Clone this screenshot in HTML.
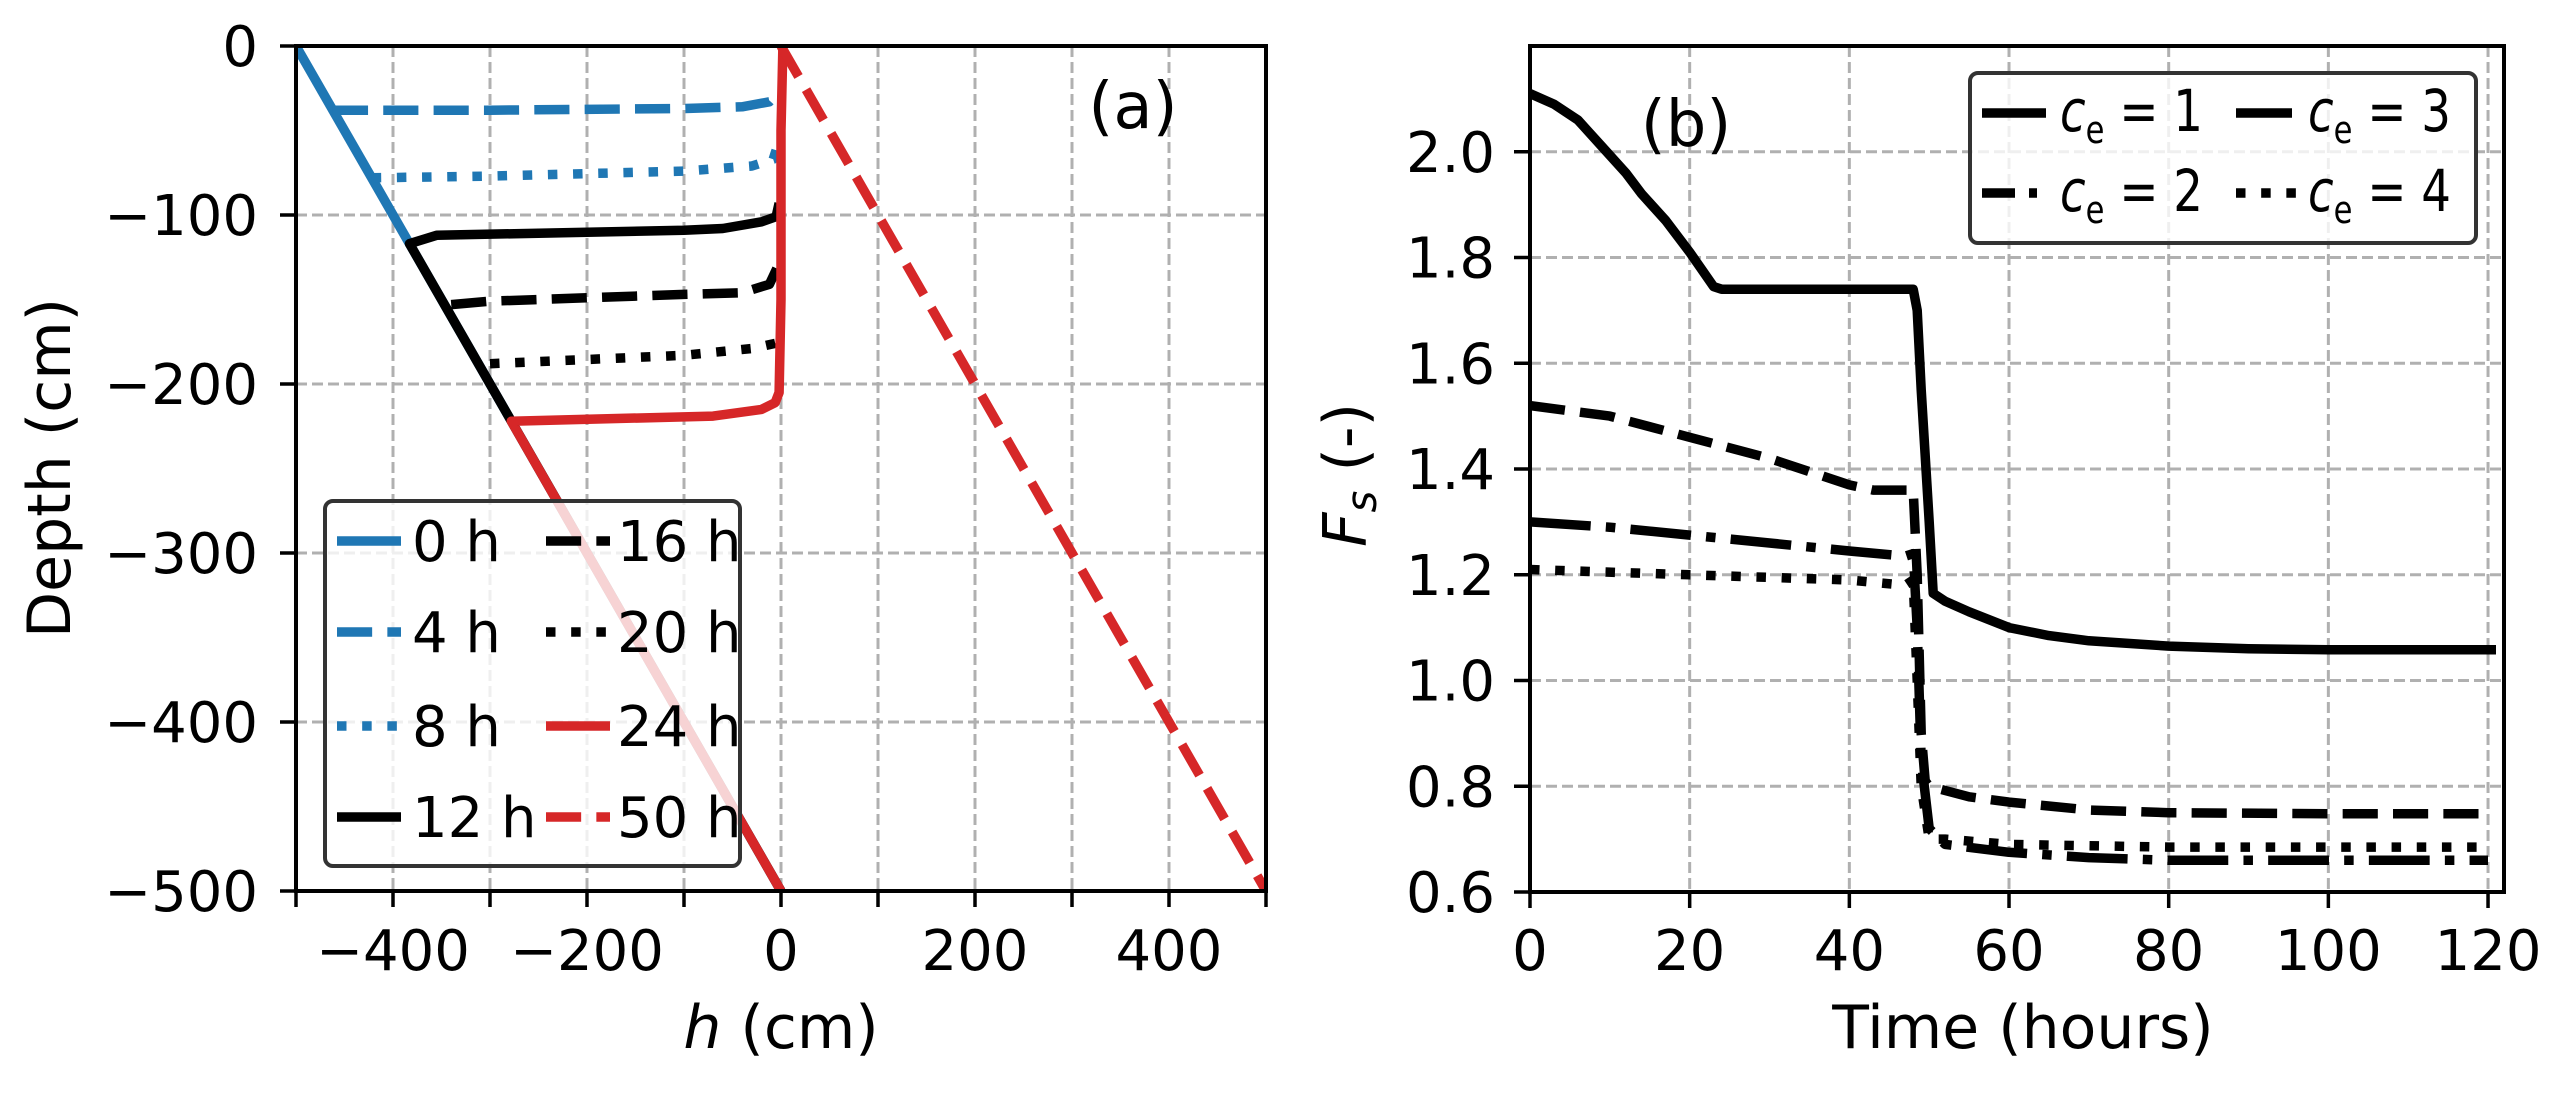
<!DOCTYPE html>
<html><head><meta charset="utf-8"><style>
html,body{margin:0;padding:0;background:#fff;}
svg{display:block;font-family:"DejaVu Sans","Liberation Sans",sans-serif;}
</style></head><body>
<svg id="fig" width="2561" height="1094" viewBox="0 0 2561 1094" xmlns="http://www.w3.org/2000/svg">
<rect width="2561" height="1094" fill="#fff"/>
<g id="panelA"></g>
<g id="panelB"></g>
</svg>
<script>
// ---- Panel (a) data: [h, depth] pairs ----
const aLabels = ["0 h","4 h","8 h","12 h","16 h","20 h","24 h","50 h"];
const a0h  = [[-500,0],[0,-500]];
const a4h  = [[-462,-38],[-300,-38],[-100,-37],[-40,-36],[-12,-33],[-4,-28]];
const a8h  = [[-422,-78],[-300,-77],[-100,-74],[-30,-71],[-8,-67],[-3,-58]];
const a12h = [[0,-500],[-383,-117],[-355,-112],[-100,-109],[-60,-108],[-20,-104],[-5,-101],[-2,-93]];
const a16h = [[-340,-153],[-300,-151],[-100,-147],[-40,-146],[-12,-141],[-3,-130]];
const a20h = [[-300,-188],[-100,-183],[-30,-179],[-6,-176],[-2,-168]];
const a24h = [[0,-500],[-278,-222],[-70,-219],[-20,-215],[-6,-211],[-2,-205],[0,-150],[0,-50],[2,0]];
const a50h = [[0,0],[500,-500]];
const aXTicks = [-400,-200,0,200,400];
const aYTicks = [0,-100,-200,-300,-400,-500];

// ---- Panel (b) data: [time, Fs] pairs ----
const bLabels = ["1","2","3","4"];
const bCe1 = [[0,2.11],[3,2.09],[6,2.06],[9,2.01],[12,1.96],[14,1.92],[17,1.87],[20,1.81],[23,1.745],[24,1.74],[48,1.74],[48.5,1.70],[49,1.55],[50,1.30],[50.5,1.165],[52,1.15],[55,1.13],[60,1.10],[65,1.085],[70,1.075],[80,1.065],[90,1.06],[100,1.058],[121,1.058]];
const bCe2 = [[0,1.30],[10,1.29],[20,1.275],[30,1.26],[40,1.245],[47,1.235],[48,1.24],[48.5,1.10],[49,0.85],[50,0.72],[52,0.69],[60,0.675],[70,0.665],[80,0.66],[120,0.66]];
const bCe3 = [[0,1.52],[10,1.50],[20,1.46],[30,1.42],[40,1.37],[43,1.36],[48,1.36],[48.5,1.20],[49,0.90],[49.5,0.81],[50,0.80],[55,0.78],[60,0.77],[70,0.755],[80,0.75],[100,0.748],[120,0.748]];
const bCe4 = [[0,1.21],[20,1.20],[40,1.19],[47,1.18],[48,1.19],[48.5,1.00],[49,0.80],[50,0.70],[52,0.70],[60,0.69],[80,0.685],[120,0.685]];
const bXTicks = [0,20,40,60,80,100,120];
const bYTicks = [0.6,0.8,1.0,1.2,1.4,1.6,1.8,2.0];

const NS = "http://www.w3.org/2000/svg";
function mk(parent, tag, attrs, text){
  const e = document.createElementNS(NS, tag);
  for (const k in attrs) e.setAttribute(k, attrs[k]);
  if (text !== undefined) e.textContent = text;
  parent.appendChild(e); return e;
}
const LW = 9.5;
const DS = 9.5;
const DASH = {solid:"none", dashed:(3.7*DS)+" "+(1.6*DS), dotted:(1*DS)+" "+(1.65*DS), dashdot:(6.4*DS)+" "+(1.6*DS)+" "+(1*DS)+" "+(1.6*DS)};
const BLUE="#1f77b4", RED="#d62728", BLK="#000000";

const A = {x0:296, x1:1266, y0:46, y1:891, xmin:-500, xmax:500, ymin:-500, ymax:0};
const ax = h => A.x0 + (h - A.xmin)/(A.xmax - A.xmin)*(A.x1 - A.x0);
const ay = d => A.y1 - (d - A.ymin)/(A.ymax - A.ymin)*(A.y1 - A.y0);
const B = {x0:1530, x1:2504, y0:46, y1:892, xmin:0, xmax:122, ymin:0.6, ymax:2.2};
const bx = t => B.x0 + (t - B.xmin)/(B.xmax - B.xmin)*(B.x1 - B.x0);
const by = v => B.y1 - (v - B.ymin)/(B.ymax - B.ymin)*(B.y1 - B.y0);

const pA = document.getElementById("panelA");
const pB = document.getElementById("panelB");

function pathD(pts, fx, fy){ return pts.map((p,i)=>(i?"L":"M")+fx(p[0]).toFixed(1)+" "+fy(p[1]).toFixed(1)).join(" "); }

const gA = mk(pA,"g",{});


for (let h=-400; h<=400; h+=100){
  mk(gA,"line",{x1:ax(h),x2:ax(h),y1:A.y0,y2:A.y1,stroke:"#b0b0b0","stroke-width":3,"stroke-dasharray":"11 5"});
}
for (const d of aYTicks){
  mk(gA,"line",{x1:A.x0,x2:A.x1,y1:ay(d),y2:ay(d),stroke:"#b0b0b0","stroke-width":3,"stroke-dasharray":"11 5"});
}
const defs = mk(document.getElementById("fig"),"defs",{});
const cA = mk(defs,"clipPath",{id:"clipA"}); mk(cA,"rect",{x:A.x0,y:A.y0,width:A.x1-A.x0,height:A.y1-A.y0});
const cB = mk(defs,"clipPath",{id:"clipB"}); mk(cB,"rect",{x:B.x0,y:B.y0,width:B.x1-B.x0,height:B.y1-B.y0});

const aSeries = [[a0h,BLUE,"solid"],[a4h,BLUE,"dashed"],[a8h,BLUE,"dotted"],[a12h,BLK,"solid"],[a16h,BLK,"dashed"],[a20h,BLK,"dotted"],[a24h,RED,"solid"],[a50h,RED,"dashed"]];
const sA = mk(pA,"g",{"clip-path":"url(#clipA)"});
aSeries.forEach((s,i)=>{
  const p = mk(sA,"path",{d:pathD(s[0],ax,ay),fill:"none",stroke:s[1],"stroke-width":LW,"stroke-dasharray":DASH[s[2]],"stroke-linejoin":"round"});
  
  
});
mk(pA,"rect",{x:A.x0,y:A.y0,width:A.x1-A.x0,height:A.y1-A.y0,fill:"none",stroke:"#000","stroke-width":4});
for (let h=-400; h<=500; h+=100){ mk(pA,"line",{x1:ax(h),x2:ax(h),y1:A.y1,y2:A.y1+16,stroke:"#000","stroke-width":3.5}); }
mk(pA,"line",{x1:A.x0,x2:A.x0,y1:A.y1,y2:A.y1+16,stroke:"#000","stroke-width":3.5});
aXTicks.forEach(h=>{
  const t = mk(pA,"text",{x:ax(h),y:970,"font-size":56,"text-anchor":"middle"}, (h<0?"\u2212":"")+Math.abs(h));
  
  
});
aYTicks.forEach(d=>{
  mk(pA,"line",{x1:A.x0-16,x2:A.x0,y1:ay(d),y2:ay(d),stroke:"#000","stroke-width":3.5});
  const t = mk(pA,"text",{x:258,y:ay(d)+20,"font-size":56,"text-anchor":"end"}, (d<0?"\u2212":"")+Math.abs(d));
  
  
});
let t;
t = mk(pA,"text",{x:ax(0),y:1048,"font-size":60,"text-anchor":"middle"});


mk(t,"tspan",{"font-style":"italic"},"h"); mk(t,"tspan",{}," (cm)");
t = mk(pA,"text",{x:0,y:0,"font-size":60,"text-anchor":"middle",transform:"translate(70,468) rotate(-90)"},"Depth (cm)");


t = mk(pA,"text",{x:1133,y:128,"font-size":64,"text-anchor":"middle"},"(a)");



const lgA = mk(pA,"g",{});


mk(lgA,"rect",{x:325,y:501,width:415,height:365,rx:8,fill:"#fff","fill-opacity":0.8,stroke:"#333","stroke-width":4});
const rowsA=[541,632,726,817];
aSeries.forEach((s,i)=>{
  const col = i<4?0:1, row=i%4;
  const hx = col?546:337, tx = col?617:412, yy=rowsA[row];
  const g = mk(lgA,"g",{});
  
  
  mk(g,"line",{x1:hx,x2:hx+64,y1:yy,y2:yy,stroke:s[1],"stroke-width":LW,"stroke-dasharray":DASH[s[2]]});
  mk(g,"text",{x:tx,y:yy+20,"font-size":56},aLabels[i]);
});

// ---- Panel B ----
const gB = mk(pB,"g",{});


bXTicks.forEach(v=>mk(gB,"line",{x1:bx(v),x2:bx(v),y1:B.y0,y2:B.y1,stroke:"#b0b0b0","stroke-width":3,"stroke-dasharray":"11 5"}));
bYTicks.forEach(v=>mk(gB,"line",{x1:B.x0,x2:B.x1,y1:by(v),y2:by(v),stroke:"#b0b0b0","stroke-width":3,"stroke-dasharray":"11 5"}));
const bSeries=[[bCe1,"solid"],[bCe2,"dashdot"],[bCe3,"dashed"],[bCe4,"dotted"]];
const sB = mk(pB,"g",{"clip-path":"url(#clipB)"});
bSeries.forEach((s,i)=>{
  const p = mk(sB,"path",{d:pathD(s[0],bx,by),fill:"none",stroke:"#000","stroke-width":LW,"stroke-dasharray":DASH[s[1]],"stroke-linejoin":"round"});
  
  
});
mk(pB,"rect",{x:B.x0,y:B.y0,width:B.x1-B.x0,height:B.y1-B.y0,fill:"none",stroke:"#000","stroke-width":4});
bXTicks.forEach(v=>{
  mk(pB,"line",{x1:bx(v),x2:bx(v),y1:B.y1,y2:B.y1+16,stroke:"#000","stroke-width":3.5});
  const tt = mk(pB,"text",{x:bx(v),y:970,"font-size":56,"text-anchor":"middle"},String(v));
  
  
});
bYTicks.forEach(v=>{
  mk(pB,"line",{x1:B.x0-16,x2:B.x0,y1:by(v),y2:by(v),stroke:"#000","stroke-width":3.5});
  const tt = mk(pB,"text",{x:1495,y:by(v)+20,"font-size":56,"text-anchor":"end"},v.toFixed(1));
  
  
});
t = mk(pB,"text",{x:2023,y:1048,"font-size":60,"text-anchor":"middle"},"Time (hours)");


t = mk(pB,"text",{x:0,y:0,"font-size":60,"text-anchor":"middle",transform:"translate(1366,475) rotate(-90)"});


mk(t,"tspan",{"font-style":"italic"},"F"); mk(t,"tspan",{"font-style":"italic","font-size":42,dy:10},"s"); mk(t,"tspan",{dy:-10}," (-)");
t = mk(pB,"text",{x:1686,y:146,"font-size":64,"text-anchor":"middle"},"(b)");



const lgB = mk(pB,"g",{});


mk(lgB,"rect",{x:1970,y:73,width:506,height:170,rx:8,fill:"#fff","fill-opacity":0.8,stroke:"#333","stroke-width":4});
const rowsB=[113,193];
const legDashB = {solid:"none", dashdot:"33 14 8 14", dashed:"56 20", dotted:DASH.dotted};
bSeries.forEach((s,i)=>{
  const col = i<2?0:1, row=i%2;
  const hx = col?2236:1982, tx = col?2308:2060, yy=rowsB[row];
  const g = mk(lgB,"g",{});
  
  
  mk(g,"line",{x1:hx,x2:hx+64,y1:yy,y2:yy,stroke:"#000","stroke-width":LW,"stroke-dasharray":legDashB[s[1]]});
  const tx2 = mk(g,"text",{x:tx,y:yy+18,"font-size":58,textLength:143,lengthAdjust:"spacingAndGlyphs"});
  mk(tx2,"tspan",{"font-style":"italic"},"c");
  mk(tx2,"tspan",{"font-size":38,dy:12},"e");
  mk(tx2,"tspan",{dy:-12}," = "+bLabels[i]);
});
</script>
</body></html>
